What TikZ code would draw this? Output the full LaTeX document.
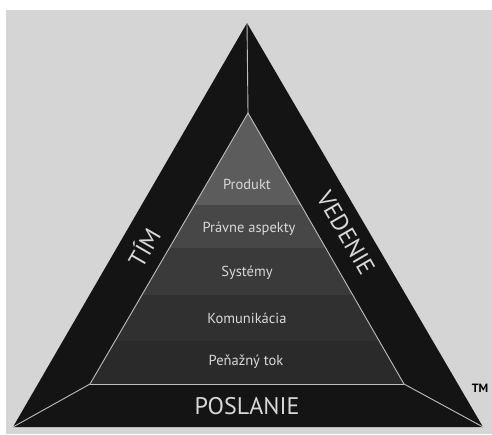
\documentclass[tikz,border=0pt]{standalone}
\usepackage{fontspec}
\setmainfont{PT Sans}
\usetikzlibrary{calc}
\definecolor{paper}{HTML}{D5D5D5}
\definecolor{frame}{HTML}{141414}
\definecolor{seam}{HTML}{BEBEBE}
\definecolor{ink}{HTML}{D8D8D8}
\definecolor{tierA}{HTML}{5C5C5C}
\definecolor{tierB}{HTML}{474747}
\definecolor{tierC}{HTML}{3A3A3A}
\definecolor{tierD}{HTML}{303030}
\definecolor{tierE}{HTML}{2A2A2A}
\begin{document}
\begin{tikzpicture}[x=1pt,y=-1pt,
	seamline/.style={draw=seam, line width=0.9pt},
	tierlabel/.style={text=ink, font=\fontsize{14.5}{15}\selectfont},
	sidelabel/.style={text=ink, font=\fontsize{24}{24}\selectfont}]
	\useasboundingbox (0,0) rectangle (492,434);
	\fill[white] (0,0) rectangle (492,434);
	\fill[paper] (6,10) rectangle (492,434);
	% corners
	\coordinate (top) at (247,23);
	\coordinate (bl) at (13,427);
	\coordinate (br) at (483,427);
	\coordinate (apex) at (248,113);
	\coordinate (pl) at (90,384);
	\coordinate (pr) at (404,384);
	\fill[frame] (top)--(br)--(bl)--cycle;
	% tiers of the inner pyramid
	\foreach \a/\b/\c in {0/0.3395/tierA, 0.3395/0.498/tierB, 0.498/0.6716/tierC, 0.6716/0.8413/tierD, 0.8413/1/tierE}{
		\fill[\c] ($(apex)!\a!(pl)$)--($(apex)!\b!(pl)$)--($(apex)!\b!(pr)$)--($(apex)!\a!(pr)$)--cycle;
		\draw[seamline] ($(apex)!\b!(pl)$)--($(apex)!\b!(pr)$);
	}
	\draw[seamline] (pl)--(apex)--(pr);
	\draw[seamline] (top)--(apex);
	\draw[seamline] (pl)--(bl);
	\draw[seamline] (pr)--(br);
	% labels
	\node[tierlabel] (produkt) at (247,184) {Produkt};
	\node[tierlabel] (pravne) at (249,229) {Právne aspekty};
	\node[tierlabel] (systemy) at (247,273) {Systémy};
	\node[tierlabel] (komunikacia) at (247,318) {Komunikácia};
	\node[tierlabel] (tok) at (246,362) {Peňažný tok};
	\node[text=ink, font=\fontsize{24}{24}\selectfont] (poslanie) at (247,406) {POSLANIE};
	\node[sidelabel, rotate=60] (tim) at (143,247) {TÍM};
	\node[sidelabel, rotate=-60] (vedenie) at (346,233) {VEDENIE};
	\node[font=\bfseries\fontsize{12}{12}\selectfont] (tm) at (480,388) {TM};
\end{tikzpicture}
\end{document}
